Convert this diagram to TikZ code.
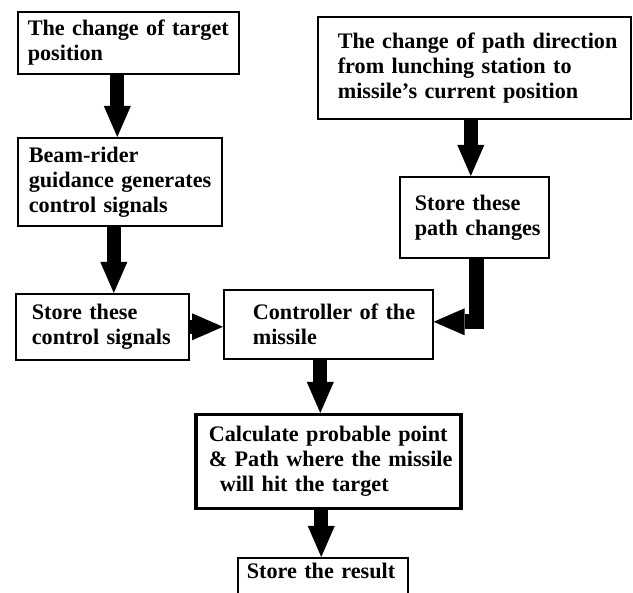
\documentclass[tikz,border=0pt]{standalone}
\usepackage{fontspec}
\setmainfont{Liberation Serif}
\usetikzlibrary{arrows.meta,positioning}

\begin{document}
\begin{tikzpicture}[x=1pt,y=-1pt,
    box/.style={draw,line width=1.6pt,anchor=north west,inner xsep=0pt,inner ysep=0pt,
      align=left,font=\fontsize{22.2}{25}\selectfont\bfseries},
    pad/.style={execute at begin node={\leftskip=#1pt\relax}},
    fat/.style={line width=14pt,-{Triangle[width=27pt,length=31pt,line width=0pt]}}]
    \clip (0,0) rectangle (633,593);

    \node at (17,11) [box,pad=10,text width=221,minimum height=62]
      (target) {The change of target\\position};
    \node at (17,137) [box,pad=11,text width=204,minimum height=88]
      (beam) {Beam-rider\\guidance generates\\control signals};
    \node at (15,293) [box,pad=16,text width=173,minimum height=66]
      (ctrlsig) {Store these\\control signals};
    \node at (223,289) [box,pad=29,text width=209,minimum height=69]
      (controller) {Controller of the\\missile};
    \node at (317,16) [box,pad=20,text width=313,minimum height=102]
      (pathdir) {The change of path direction\\from lunching station to\\missile’s current position};
    \node at (399,176) [box,pad=15,text width=149,minimum height=81]
      (pathstore) {Store these\\path changes};
    \node at (194,413) [box,line width=3.5pt,pad=13,text width=265,minimum height=94]
      (calc) {Calculate probable point\\\& Path where the missile\\\hspace*{11pt}will hit the target};
    \node at (237,557) [box,pad=9,text width=170,inner ysep=4.5pt,text height=16pt,text depth=20pt]
      (result) {Store the result};

    % left branch
    \draw[fat] ([xshift=-11] target.south) -- ([xshift=-11] target.south |- beam.north);
    \draw[fat] ([xshift=-6] beam.south) -- ([xshift=-6] beam.south |- ctrlsig.north);
    \draw[fat] (ctrlsig.east) -- (ctrlsig.east -| controller.west);

    % right branch
    \draw[fat] ([xshift=-3.5] pathdir.south) -- ([xshift=-3.5] pathdir.south |- pathstore.north);
    \draw[fat,line width=15pt] ([xshift=2] pathstore.south) |- ([yshift=2.5] controller.east);

    % down to the result
    \draw[fat] ([xshift=-8] controller.south) -- ([xshift=-8] controller.south |- calc.north);
    \draw[fat] ([xshift=-7] calc.south) -- ([xshift=-7] calc.south |- result.north);
\end{tikzpicture}
\end{document}
